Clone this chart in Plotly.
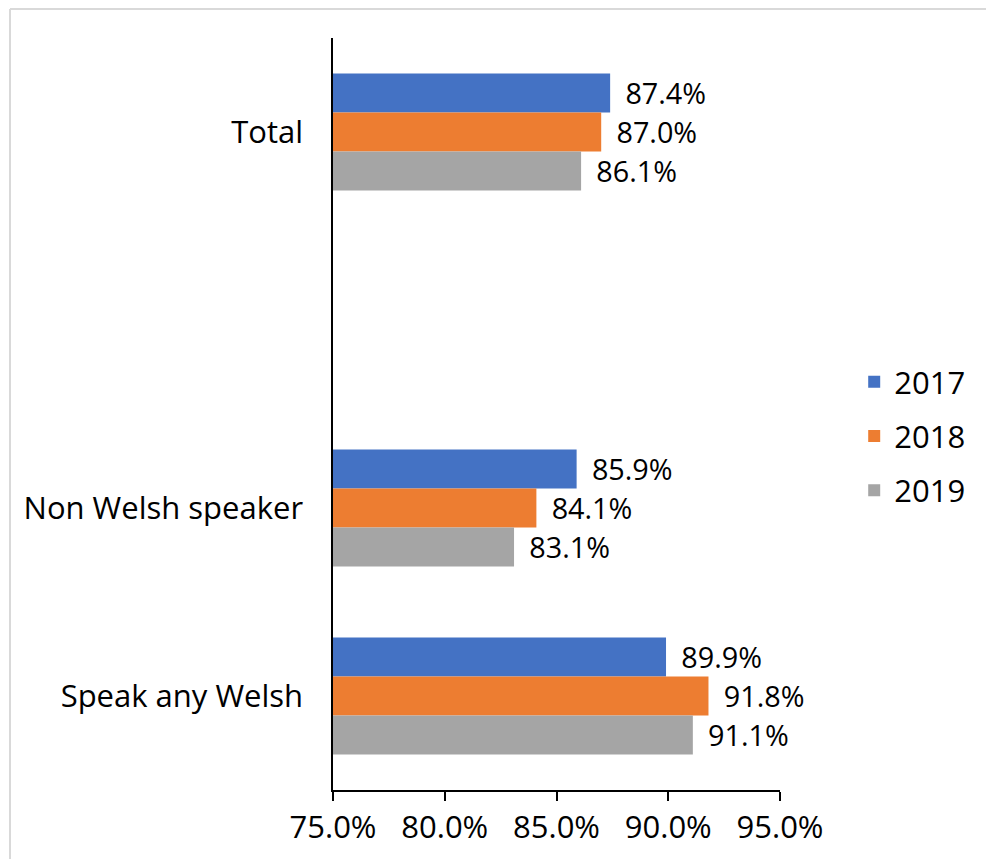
import plotly.graph_objects as go

categories = ["Total", " ", "Non Welsh speaker", "Speak any Welsh"]
years = ["2017", "2018", "2019"]
values_2017 = [87.4, None, 85.9, 89.9]
values_2018 = [87.0, None, 84.1, 91.8]
values_2019 = [86.1, None, 83.1, 91.1]
colors = ["#4472C4", "#ED7D31", "#A5A5A5"]
x_ticks = [75, 80, 85, 90, 95]
x_ticktext = ["75.0%", "80.0%", "85.0%", "90.0%", "95.0%"]

FONT = "Open Sans"
FS = 31

fig = go.Figure()
for name, vals, col in zip(years, [values_2017, values_2018, values_2019], colors):
    fig.add_trace(go.Bar(
        y=categories, x=[v - 75 if v is not None else None for v in vals], base=75,
        orientation="h", name=name, marker=dict(color=col, line=dict(width=0)),
        text=[(" \u2009%.1f%%" % v) if v is not None else "" for v in vals],
        textposition="outside", cliponaxis=False,
        textfont=dict(family=FONT, size=FS, color="black"),
        legendgroup=name, hoverinfo="skip",
    ))

fig.update_layout(
    width=986, height=859,
    margin=dict(l=333, r=206, t=38, b=69),
    plot_bgcolor="white", paper_bgcolor="white",
    barmode="group", bargap=0.378, bargroupgap=0,
    font=dict(family=FONT, size=FS, color="black"),
    showlegend=True,
    legend=dict(x=1.166, xanchor="left", y=0.4707, yanchor="middle",
                font=dict(family=FONT, size=FS, color="black"),
                tracegroupgap=11, traceorder="grouped", bgcolor="rgba(0,0,0,0)"),
    xaxis=dict(range=[75, 95], tickvals=x_ticks, ticktext=x_ticktext,
               showgrid=False, zeroline=False, showline=True, linecolor="black", linewidth=1.5,
               ticks="outside", ticklen=9, tickcolor="black", tickwidth=1.5,
               tickfont=dict(family=FONT, size=FS, color="black")),
    yaxis=dict(type="category", categoryorder="array", categoryarray=categories,
               autorange="reversed", showgrid=False, zeroline=False,
               showline=True, linecolor="black", linewidth=1.5, ticks="",
               ticklabelstandoff=22,
               tickfont=dict(family=FONT, size=FS, color="black")),
    shapes=[
        dict(type="line", xref="paper", yref="paper",
             x0=-0.7226, x1=1.6, y0=1.0386, y1=1.0386,
             line=dict(color="#d9d9d9", width=2), layer="below"),
        dict(type="line", xref="paper", yref="paper",
             x0=-0.7226, x1=-0.7226, y0=-0.2, y1=1.0386,
             line=dict(color="#d9d9d9", width=2), layer="below"),
    ],
)

fig.write_html("out.html", config={"displayModeBar": False},
               post_script="document.body.style.margin='0';document.body.style.overflow='hidden';")
